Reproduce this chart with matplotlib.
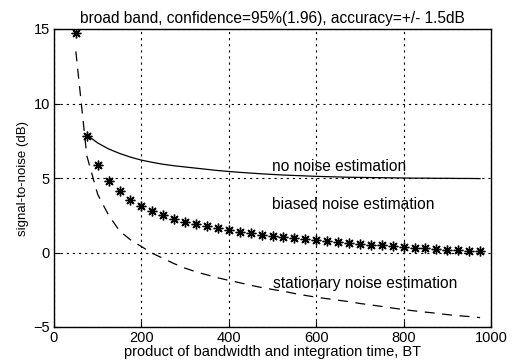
import matplotlib
matplotlib.use("Agg")
import matplotlib.pyplot as plt

# data
bt = [50, 75, 100, 125, 150, 175, 200, 225, 250, 275, 300, 325, 350, 375, 400,
      425, 450, 475, 500, 525, 550, 575, 600, 625, 650, 675, 700, 725, 750, 775,
      800, 825, 850, 875, 900, 925, 950, 975]
biased = [14.7, 7.8, 5.9, 4.8, 4.1, 3.5, 3.15, 2.8, 2.5, 2.25, 2.05, 1.9, 1.75,
          1.62, 1.5, 1.4, 1.3, 1.2, 1.12, 1.05, 0.97, 0.9, 0.83, 0.76, 0.7, 0.64,
          0.58, 0.53, 0.47, 0.42, 0.37, 0.32, 0.28, 0.24, 0.19, 0.15, 0.11, 0.07]
bt_no = bt[1:]
no_noise = [7.9, 7.35, 6.95, 6.65, 6.4, 6.2, 6.05, 5.92, 5.82, 5.74, 5.66, 5.58,
            5.5, 5.44, 5.38, 5.33, 5.28, 5.24, 5.2, 5.17, 5.14, 5.11, 5.09, 5.07,
            5.05, 5.04, 5.03, 5.02, 5.01, 5.0, 4.99, 4.99, 4.98, 4.98, 4.97, 4.97,
            4.96]
stationary = [13.5, 6.5, 3.9, 2.5, 1.45, 0.85, 0.4, -0.05, -0.4, -0.75, -1.05,
              -1.3, -1.5, -1.7, -1.87, -2.03, -2.2, -2.35, -2.48, -2.6, -2.75,
              -2.88, -3.0, -3.1, -3.2, -3.3, -3.42, -3.52, -3.62, -3.73, -3.83,
              -3.92, -4.0, -4.08, -4.17, -4.24, -4.3, -4.37]
xticks = [0, 200, 400, 600, 800, 1000]
yticks = [-5, 0, 5, 10, 15]

plt.rcParams['font.family'] = ['Liberation Sans', 'DejaVu Sans']
fig = plt.figure(figsize=(5.12, 3.64), dpi=100)
ax = fig.add_axes([54/512, 1-327/364, (491-54)/512, (327-29)/364])

ax.plot(bt_no, no_noise, color='black', lw=0.9)
ax.plot(bt, biased, linestyle='none', marker=(8, 2, 0), markersize=7,
        markeredgewidth=1.0, color='black')
ax.plot(bt, stationary, color='black', lw=0.9, linestyle=(0, (8, 6)))

ax.set_xlim(0, 1000)
ax.set_ylim(-5, 15)
ax.set_xticks(xticks)
ax.set_yticks(yticks)
ax.grid(True, color='black', linestyle=(0, (2, 3.5)), linewidth=0.8)
ax.tick_params(direction='in', length=4, labelsize=10.5, colors='black', pad=3)
for s in ax.spines.values():
    s.set_linewidth(1.0)

ax.text(499, 5.8, 'no noise estimation', fontsize=11.2, va='center')
ax.text(499, 3.2, 'biased noise estimation', fontsize=11.2, va='center')
ax.text(501, -2.05, 'stationary noise estimation', fontsize=11.2, va='center')

ax.set_title('broad band, confidence=95%(1.96), accuracy=+/- 1.5dB', fontsize=11.2, pad=4)
ax.set_xlabel('product of bandwidth and integration time, BT', fontsize=10.5, labelpad=0)
ax.set_ylabel('signal-to-noise (dB)', fontsize=9.5, labelpad=3)

fig.savefig('out.png', dpi=100)
